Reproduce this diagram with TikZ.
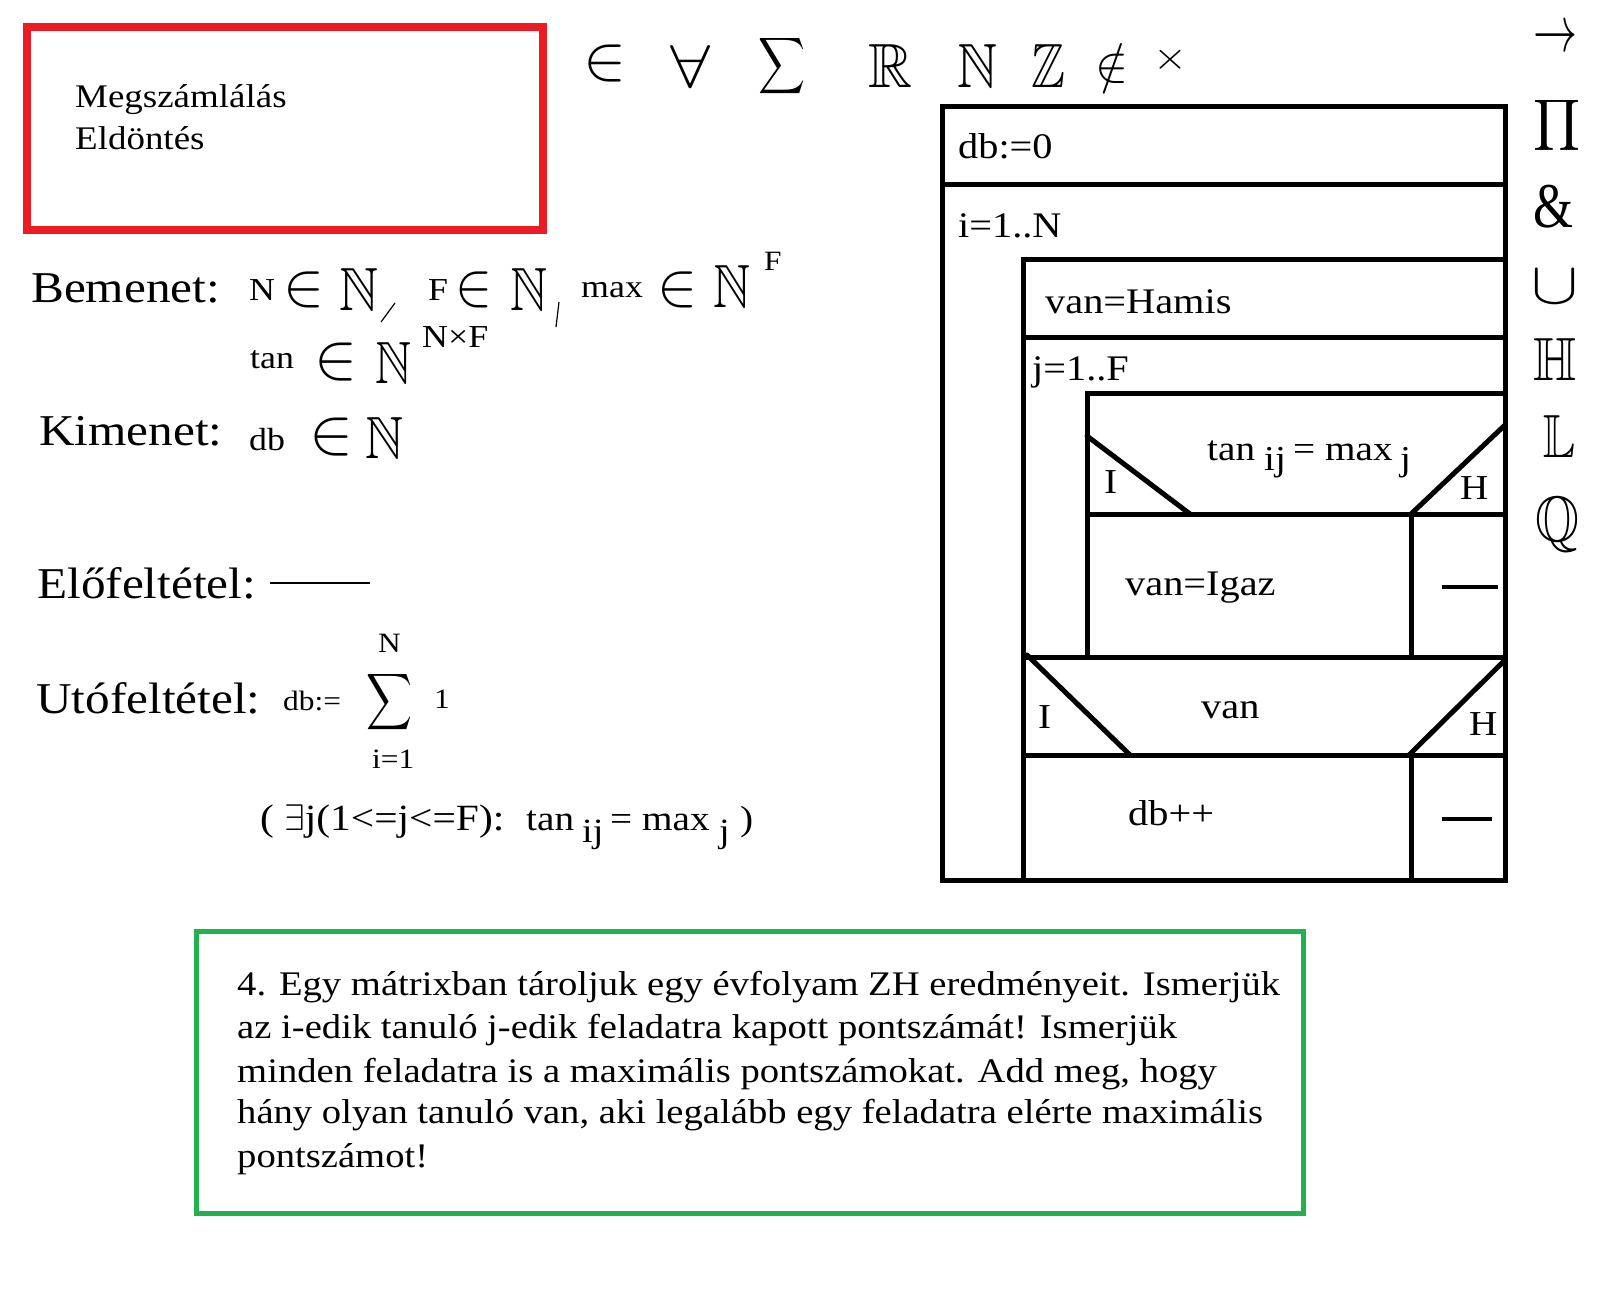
\RequirePackage{fix-cm}
\documentclass[tikz,border=0pt]{standalone}
\usepackage{amssymb}
\usepackage{fontspec}
\setmainfont{Liberation Serif}[FakeStretch=1.12]
\definecolor{pred}{HTML}{ED1C24}
\definecolor{pgreen}{HTML}{22B14C}
\newcommand\gsym[3]{\resizebox*{#1pt}{#2pt}{$\displaystyle #3$}}
\tikzset{
  lbl/.style={anchor=base west, inner sep=0pt, font=\fontsize{#1}{#1}\selectfont},
  sym/.style={anchor=north west, inner sep=0pt},
  frame/.style={line width=5pt, line cap=rect},
  diag/.style={line width=5pt, line cap=round},
  dashmark/.style={line width=4pt},
  thin/.style={line width=1.2pt},
}
\begin{document}
\begin{tikzpicture}[x=1pt,y=-1pt]
\fill[white] (0,0) rectangle (1600,1300);
\useasboundingbox (0,0) rectangle (1600,1300);

% red box
\draw[pred, line width=8pt] (27,27) rectangle (543,230);
\node[lbl=33] (megsz) at (75,108) {Megszámlálás};
\node[lbl=33] (eld) at (75,150) {Eldöntés};

% top row of symbols
\node[sym] (s1) at (583,45) {\gsym{43}{37}{\in}};
\node[sym] (s2) at (670,45) {\gsym{40}{42}{\forall}};
\node[sym] (s3) at (758,34) {\gsym{47}{63}{\sum}};
\node[sym] (s4) at (868,44) {\gsym{44}{43}{\mathbb{R}}};
\node[sym] (s5) at (957,44) {\gsym{40}{43}{\mathbb{N}}};
\node[sym] (s6) at (1031,44) {\gsym{34}{43}{\mathbb{Z}}};
\node[sym] (s7) at (1095,43) {\gsym{33}{40}{\notin}};
\node[sym] (s8) at (1153,47) {\gsym{34}{26}{\times}};

% right column of symbols
\node[sym] (r1) at (1533,27) {\gsym{44}{24}{\rightarrow}};
\node[sym] (r2) at (1533,97) {\gsym{47}{57}{\prod}};
\node[sym] (r3) at (1533,185) {\resizebox*{40pt}{43pt}{\&}};
\node[sym] (r4) at (1531,270) {\gsym{47}{33}{\cup}};
\node[sym] (r5) at (1533,338) {\gsym{43}{42}{\mathbb{H}}};
\node[sym] (r6) at (1543,415) {\gsym{32}{42}{\mathbb{L}}};
\node[sym] (r7) at (1535,497) {\gsym{44}{55}{\mathbb{Q}}};

% Bemenet
\node[lbl=44] (bem) at (31,302) {Bemenet:};
\node[lbl=32] (bN) at (249,300) {N};
\node[sym] (bNin) at (283,272) {\gsym{41}{36}{\in}};
\node[sym] (bNN) at (339,268) {\gsym{39}{42}{\mathbb{N}}};
\draw[thin] (395,303) -- (381,322);
\node[lbl=32] (bF) at (428,300) {F};
\node[sym] (bFin) at (455,272) {\gsym{37}{36}{\in}};
\node[sym] (bFN) at (510,268) {\gsym{37}{42}{\mathbb{N}}};
\draw[thin] (559,302) -- (556,327);
\node[lbl=32] (bmax) at (581,297) {max};
\node[sym] (bmaxin) at (657,272) {\gsym{40}{36}{\in}};
\node[sym] (bmaxN) at (713,265) {\gsym{37}{42}{\mathbb{N}}};
\node[lbl=28] (bmaxF) at (764,270) {F};
\node[lbl=32] (btan) at (250,368) {tan};
\node[sym] (btanin) at (314,343) {\gsym{43}{38}{\in}};
\node[sym] (btanN) at (375,342) {\gsym{36}{41}{\mathbb{N}}};
\node[lbl=32] (btanNF) at (422,347) {N×F};

% Kimenet
\node[lbl=44] (kim) at (39,445) {Kimenet:};
\node[lbl=32] (kdb) at (249,450) {db};
\node[sym] (kin) at (309,418) {\gsym{44}{38}{\in}};
\node[sym] (kN) at (365,417) {\gsym{38}{41}{\mathbb{N}}};

% Elofeltetel
\node[lbl=44] (elo) at (37,598) {Előfeltétel:};
\draw[thin] (270,583) -- (370,583);

% Utofeltetel
\node[lbl=44] (uto) at (36,713) {Utófeltétel:};
\node[lbl=28] (udb) at (283,710) {db:=};
\node[sym] (usum) at (366,670) {\gsym{46}{63}{\sum}};
\node[lbl=28] (uN) at (378,652) {N};
\node[lbl=28] (ui) at (372,768) {i=1};
\node[lbl=28] (u1) at (434,708) {1};
\node[lbl=37] (ucond) at (260,830) {( $\exists$j(1<=j<=F):};
\node[lbl=35] (utan) at (526,830) {tan};
\node[lbl=34] (uij) at (582,842) {ij};
\node[lbl=35] (ueq) at (610,830) {= max};
\node[lbl=34] (uj) at (719,842) {j};
\node[lbl=35] (upar) at (740,830) {)};

% structogram
\draw[frame] (942,107) rectangle (1505,880);
\draw[frame] (942,185) -- (1505,185);
\draw[frame] (1023,259) -- (1505,259);
\draw[frame] (1023,337) -- (1505,337);
\draw[frame] (1087,393) -- (1505,393);
\draw[frame] (1087,514) -- (1505,514);
\draw[frame] (1023,657) -- (1505,657);
\draw[frame] (1023,755) -- (1505,755);
\draw[frame] (1023,259) -- (1023,880);
\draw[frame] (1087,393) -- (1087,657);
\draw[frame] (1411,514) -- (1411,657);
\draw[frame] (1411,755) -- (1411,880);
\draw[diag] (1087,436) -- (1190,514);
\draw[diag] (1505,425) -- (1411,514);
\draw[diag] (1027,655) -- (1130,755);
\draw[diag] (1505,660) -- (1409,755);

\node[lbl=36] (sdb0) at (958,159) {db:=0};
\node[lbl=36] (si) at (958,237) {i=1..N};
\node[lbl=36] (svanh) at (1045,313) {van=Hamis};
\node[lbl=36] (sj) at (1032,380) {j=1..F};
\node[lbl=35] (stan) at (1207,460) {tan};
\node[lbl=35] (sij) at (1264,470) {ij};
\node[lbl=35] (seq) at (1293,460) {= max};
\node[lbl=35] (sjj) at (1400,470) {j};
\node[lbl=35] (sI1) at (1104,493) {I};
\node[lbl=35] (sH1) at (1460,499) {H};
\node[lbl=36] (svani) at (1125,595) {van=Igaz};
\draw[dashmark] (1442,587) -- (1498,587);
\node[lbl=36] (svan) at (1201,718) {van};
\node[lbl=35] (sI2) at (1038,728) {I};
\node[lbl=35] (sH2) at (1469,735) {H};
\node[lbl=36] (sdbpp) at (1128,825) {db++};
\draw[dashmark] (1442,819) -- (1492,819);

% green box
\draw[pgreen, line width=5pt] (196,931) rectangle (1303,1213);
\node[lbl=34.5] (g1) at (237,995) {4. Egy mátrixban tároljuk egy évfolyam ZH eredményeit. Ismerjük};
\node[lbl=34.5] (g2) at (237,1038) {az i-edik tanuló j-edik feladatra kapott pontszámát! Ismerjük};
\node[lbl=34.5] (g3) at (237,1082) {minden feladatra is a maximális pontszámokat. Add meg, hogy};
\node[lbl=34.5] (g4) at (237,1123) {hány olyan tanuló van, aki legalább egy feladatra elérte maximális};
\node[lbl=34.5] (g5) at (237,1167) {pontszámot!};
\end{tikzpicture}
\end{document}
